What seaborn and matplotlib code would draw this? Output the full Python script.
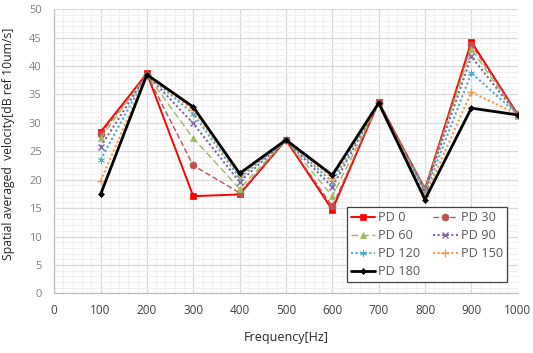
import numpy as np
import pandas as pd
import seaborn as sns
import matplotlib.pyplot as plt
from matplotlib.ticker import MultipleLocator

freq = [100, 200, 300, 400, 500, 600, 700, 800, 900, 1000]

pd0 = [28.4, 38.7, 17.1, 17.4, 27.0, 14.7, 33.7, 18.3, 44.3, 31.5]
pd30 = [28.0, 38.5, 22.5, 17.7, 27.0, 15.3, 33.5, 18.5, 43.8, 31.5]
pd60 = [27.3, 38.5, 27.3, 18.4, 27.0, 17.1, 33.5, 18.2, 43.0, 31.3]
pd90 = [25.8, 38.5, 29.9, 19.6, 27.0, 18.7, 33.5, 18.0, 41.7, 31.4]
pd120 = [23.5, 38.5, 31.6, 20.3, 27.0, 19.6, 33.5, 17.6, 38.8, 31.5]
pd150 = [19.8, 38.5, 32.3, 20.8, 27.0, 20.3, 33.5, 17.1, 35.4, 31.5]
pd180 = [17.4, 38.5, 32.8, 21.1, 27.0, 20.8, 33.5, 16.5, 32.6, 31.4]

series_names = ["PD 0", "PD 30", "PD 60", "PD 90", "PD 120", "PD 150", "PD 180"]
series_values = [pd0, pd30, pd60, pd90, pd120, pd150, pd180]

colors = ["#FF0000", "#C0504D", "#9BBB59", "#8064A2", "#4BACC6", "#F79646", "#000000"]
markers = ["s", "o", "^", "x", (6, 2, 0), "+", "D"]
dashes = ["", (4, 2), (5, 2.5), (1, 1.2), (1, 1.2), (1, 1.2), ""]
widths = [1.4, 1.0, 1.0, 1.5, 1.5, 1.5, 2.0]
msizes = [5, 5, 5, 5, 5, 6, 3]

df = pd.DataFrame({
    "Frequency": np.tile(freq, len(series_names)),
    "Velocity": np.concatenate(series_values),
    "Series": np.repeat(series_names, len(freq)),
})

sns.set_theme(style="white")
plt.rcParams["font.family"] = ["Open Sans", "DejaVu Sans"]

fig = plt.figure(figsize=(5.33, 3.53), dpi=100)
ax = fig.add_axes([0.1017, 0.1691, 0.8696, 0.8046])

for name, c, m, d, lw, ms in zip(series_names, colors, markers, dashes, widths, msizes):
    sub = df[df["Series"] == name]
    sns.lineplot(data=sub, x="Frequency", y="Velocity", ax=ax, color=c,
                 marker=m, markersize=ms, linewidth=lw, label=name,
                 markeredgecolor=c, markeredgewidth=1.0 if m in ("x", "+") else 0.5,
                 sort=False)
    line = ax.lines[-1]
    if d:
        line.set_dashes(d)
    else:
        line.set_linestyle("-")

ax.set_xlim(0, 1000)
ax.set_ylim(0, 50)
ax.xaxis.set_major_locator(MultipleLocator(100))
ax.xaxis.set_minor_locator(MultipleLocator(20))
ax.yaxis.set_major_locator(MultipleLocator(5))
ax.yaxis.set_minor_locator(MultipleLocator(1))
ax.grid(True, which="major", color="#D9D9D9", linewidth=0.9)
ax.grid(True, which="minor", color="#F0F0F0", linewidth=0.7)
ax.set_axisbelow(True)

for side in ["top", "right"]:
    ax.spines[side].set_visible(False)
for side in ["left", "bottom"]:
    ax.spines[side].set_color("#BFBFBF")
    ax.spines[side].set_linewidth(0.9)

ax.tick_params(axis="both", which="both", length=0)
ax.tick_params(axis="x", labelsize=8.5, labelcolor="#404040", pad=8)
ax.tick_params(axis="y", labelsize=8, labelcolor="#7F7F7F", pad=9)

ax.set_xlabel("Frequency[Hz]", fontsize=9, color="#262626", labelpad=10)
ax.set_ylabel("Spatial averaged  velocity[dB ref 10um/s]", fontsize=8.8,
              color="#262626")
ax.yaxis.set_label_coords(-0.0846, 0.526)

handles, labels = ax.get_legend_handles_labels()
order = [0, 2, 4, 6, 1, 3, 5]
leg = ax.legend([handles[i] for i in order], [labels[i] for i in order],
                ncol=2, loc="upper left", bbox_to_anchor=(0.632, 0.303),
                fontsize=9.2, frameon=True, fancybox=False,
                handlelength=1.9, handletextpad=0.25, columnspacing=1.0,
                labelspacing=0.4, borderpad=0.3, borderaxespad=0.0,
                labelcolor="#595959")
leg.get_frame().set_edgecolor("#404040")
leg.get_frame().set_linewidth(0.9)
leg.get_frame().set_alpha(1.0)

fig.savefig("out.png", dpi=100)
